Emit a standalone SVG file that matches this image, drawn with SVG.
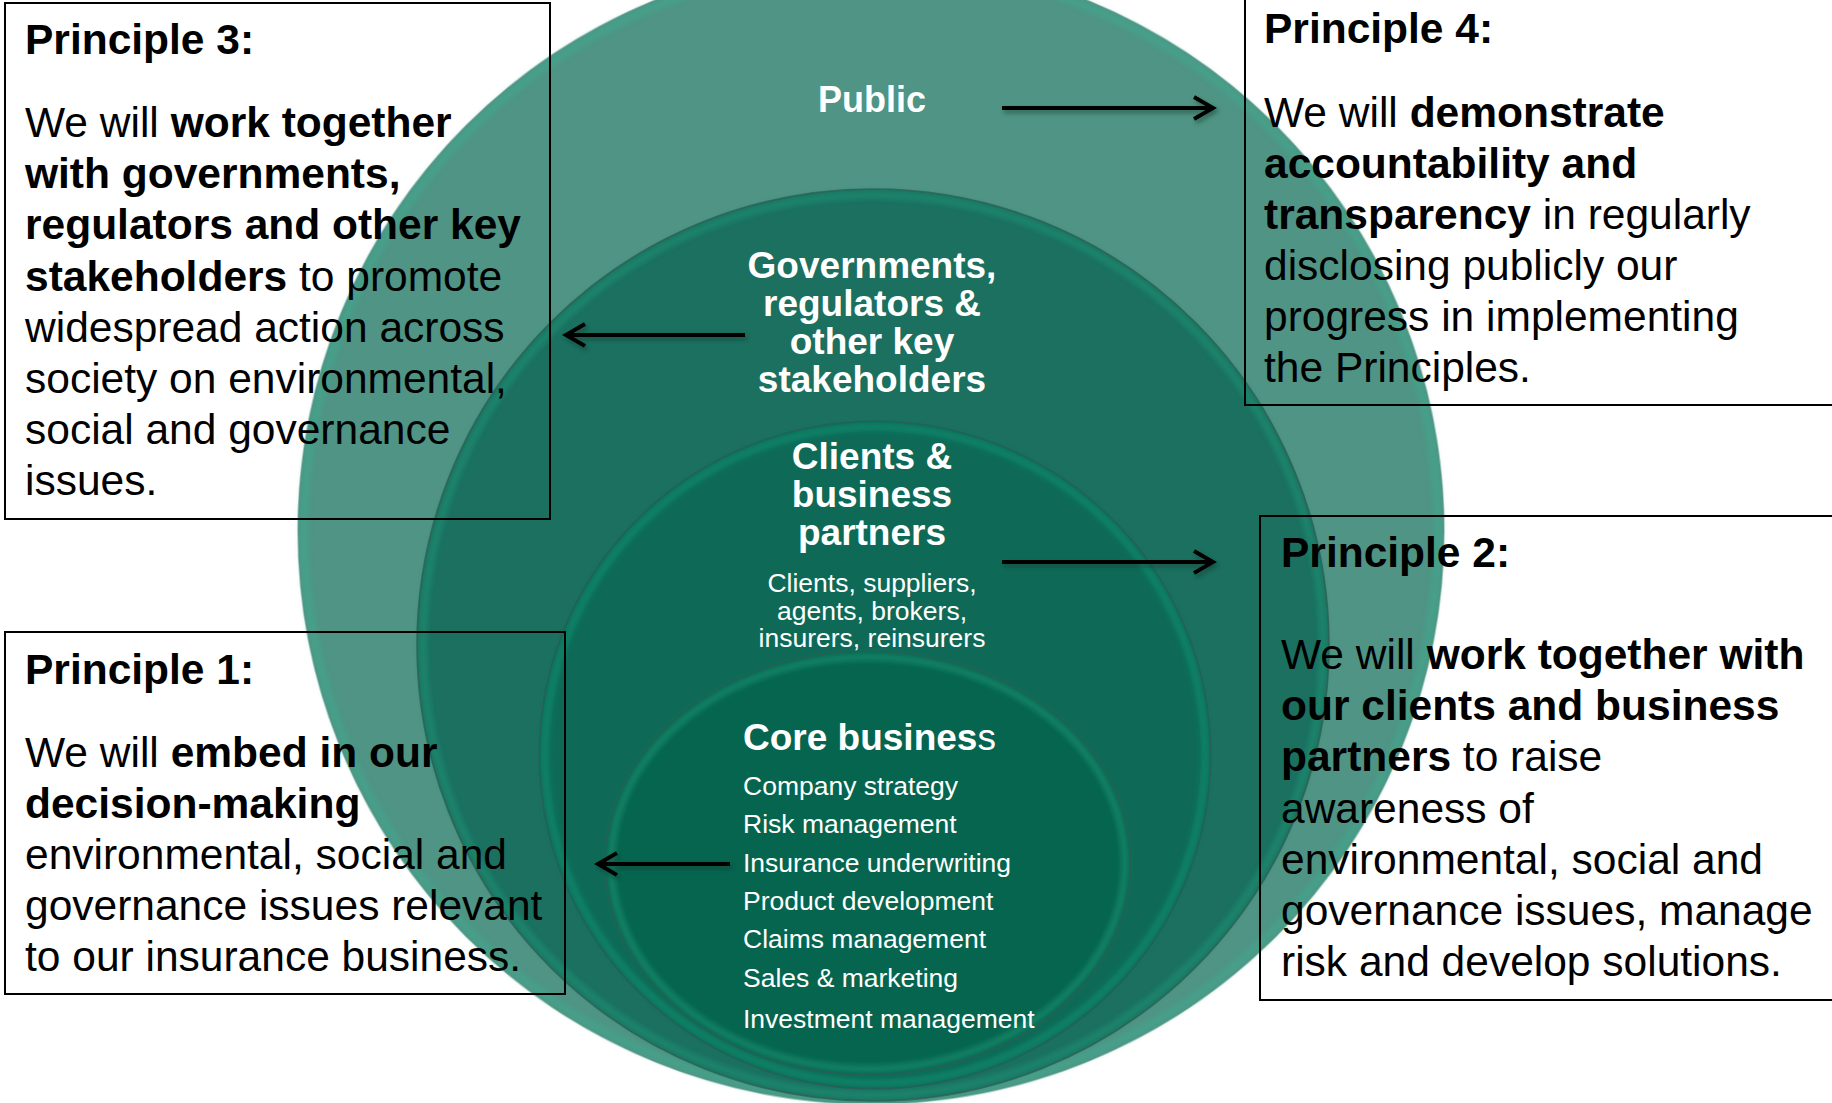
<svg xmlns="http://www.w3.org/2000/svg" width="1832" height="1103" viewBox="0 0 1832 1103">
<defs>
<style>
.t{font-family:"Liberation Sans",Arial,Helvetica,sans-serif;}
.p{font-size:42.5px;fill:#000;}
.b{font-weight:bold;}
.n{font-weight:normal;}
.w{fill:#fff;}
.lbl{font-size:37px;font-weight:bold;text-anchor:middle;fill:#fff;}
.pub{font-size:36px;font-weight:bold;text-anchor:middle;fill:#fff;}
.sub{font-size:26.5px;fill:#fff;}
.mid{text-anchor:middle;}
.box{fill:none;stroke:#000;stroke-width:2;}
.rim{fill:none;stroke-width:8;filter:url(#soft);}
.edge{fill:none;stroke-width:1.6;}
.arrow{fill:none;stroke:#000;stroke-width:4;marker-end:url(#head);filter:url(#sh);}
</style>
<filter id="soft" x="-5%" y="-5%" width="110%" height="110%"><feGaussianBlur stdDeviation="2.5"/></filter>
<filter id="sh" filterUnits="userSpaceOnUse" x="0" y="0" width="1832" height="1103"><feDropShadow dx="2" dy="3" stdDeviation="2" flood-color="#0a3a30" flood-opacity="0.55"/></filter>
<marker id="head" viewBox="-24 -15 28 30" markerWidth="28" markerHeight="30" refX="0" refY="0" markerUnits="userSpaceOnUse" orient="auto"><path d="M-19,-11 L0,0 L-19,11" fill="none" stroke="#000" stroke-width="4"/></marker>
</defs>
<rect width="1832" height="1103" fill="#fff"/>

<g id="node-public">
<ellipse cx="871" cy="531" rx="573" ry="573" fill="#4F9484"/>
<ellipse class="rim" cx="871" cy="531" rx="567" ry="567" stroke="#3FA88E" opacity="0.6"/>
<ellipse class="edge" cx="871" cy="531" rx="573" ry="573" stroke="#5A9A8C" opacity="0.5"/>
<text class="t pub" x="872" y="112">Public</text>
</g>

<g id="node-governments">
<ellipse cx="873" cy="645" rx="456" ry="456" fill="#1B7060"/>
<ellipse class="rim" cx="873" cy="645" rx="450" ry="450" stroke="#1A8C70" opacity="0.7"/>
<ellipse class="edge" cx="873" cy="645" rx="456" ry="456" stroke="#2F5F55" opacity="0.8"/>
<text class="t lbl" x="872" y="278">Governments,</text>
<text class="t lbl" x="872" y="316">regulators &amp;</text>
<text class="t lbl" x="872" y="354">other key</text>
<text class="t lbl" x="872" y="392">stakeholders</text>
</g>

<g id="node-clients">
<ellipse cx="875" cy="755" rx="336" ry="334" fill="#0E6A57"/>
<ellipse class="rim" cx="875" cy="755" rx="330" ry="328" stroke="#118A6C" opacity="0.7"/>
<ellipse class="edge" cx="875" cy="755" rx="336" ry="334" stroke="#2C5E54" opacity="0.8"/>
<text class="t lbl" x="872" y="469">Clients &amp;</text>
<text class="t lbl" x="872" y="507">business</text>
<text class="t lbl" x="872" y="545">partners</text>
<text class="t sub mid" x="872" y="592">Clients, suppliers,</text>
<text class="t sub mid" x="872" y="620">agents, brokers,</text>
<text class="t sub mid" x="872" y="647">insurers, reinsurers</text>
</g>

<g id="node-core">
<ellipse cx="868" cy="863" rx="263" ry="212" fill="#06654F"/>
<ellipse class="rim" cx="868" cy="863" rx="257" ry="206" stroke="#138A6C" opacity="0.7"/>
<ellipse class="edge" cx="868" cy="863" rx="263" ry="212" stroke="#2C5E54" opacity="0.8"/>
<text class="t w" x="743" y="750" font-size="37"><tspan class="b">Core busines</tspan><tspan class="n">s</tspan></text>
<text class="t sub" x="743" y="795">Company strategy</text>
<text class="t sub" x="743" y="833">Risk management</text>
<text class="t sub" x="743" y="872">Insurance underwriting</text>
<text class="t sub" x="743" y="910">Product development</text>
<text class="t sub" x="743" y="948">Claims management</text>
<text class="t sub" x="743" y="987">Sales &amp; marketing</text>
<text class="t sub" x="743" y="1028">Investment management</text>
</g>

<g id="connectors">
<path class="arrow" d="M1002,108 L1213,108"/>
<path class="arrow" d="M745,335 L566,335"/>
<path class="arrow" d="M1002,562 L1213,562"/>
<path class="arrow" d="M730,864 L598,864"/>
</g>

<g id="principle-3">
<rect class="box" x="5" y="3" width="545" height="516"/>
<text class="t p b" x="25" y="54">Principle 3:</text>
<text class="t p" x="25" y="137">We will <tspan class="b">work together</tspan></text>
<text class="t p b" x="25" y="188">with governments,</text>
<text class="t p b" x="25" y="239">regulators and other key</text>
<text class="t p" x="25" y="291"><tspan class="b">stakeholders</tspan> to promote</text>
<text class="t p" x="25" y="342">widespread action across</text>
<text class="t p" x="25" y="393">society on environmental,</text>
<text class="t p" x="25" y="444">social and governance</text>
<text class="t p" x="25" y="495">issues.</text>
</g>

<g id="principle-4">
<rect class="box" x="1245" y="-5" width="600" height="410"/>
<text class="t p b" x="1264" y="43">Principle 4:</text>
<text class="t p" x="1264" y="127">We will <tspan class="b">demonstrate</tspan></text>
<text class="t p b" x="1264" y="178">accountability and</text>
<text class="t p" x="1264" y="229"><tspan class="b">transparency</tspan> in regularly</text>
<text class="t p" x="1264" y="280">disclosing publicly our</text>
<text class="t p" x="1264" y="331">progress in implementing</text>
<text class="t p" x="1264" y="382">the Principles.</text>
</g>

<g id="principle-2">
<rect class="box" x="1260" y="516" width="590" height="484"/>
<text class="t p b" x="1281" y="567">Principle 2:</text>
<text class="t p" x="1281" y="669">We will <tspan class="b">work together with</tspan></text>
<text class="t p b" x="1281" y="720">our clients and business</text>
<text class="t p" x="1281" y="771"><tspan class="b">partners</tspan> to raise</text>
<text class="t p" x="1281" y="823">awareness of</text>
<text class="t p" x="1281" y="874">environmental, social and</text>
<text class="t p" x="1281" y="925">governance issues, manage</text>
<text class="t p" x="1281" y="976">risk and develop solutions.</text>
</g>

<g id="principle-1">
<rect class="box" x="5" y="632" width="560" height="362"/>
<text class="t p b" x="25" y="684">Principle 1:</text>
<text class="t p" x="25" y="767">We will <tspan class="b">embed in our</tspan></text>
<text class="t p b" x="25" y="818">decision-making</text>
<text class="t p" x="25" y="869">environmental, social and</text>
<text class="t p" x="25" y="920">governance issues relevant</text>
<text class="t p" x="25" y="971">to our insurance business.</text>
</g>
</svg>
